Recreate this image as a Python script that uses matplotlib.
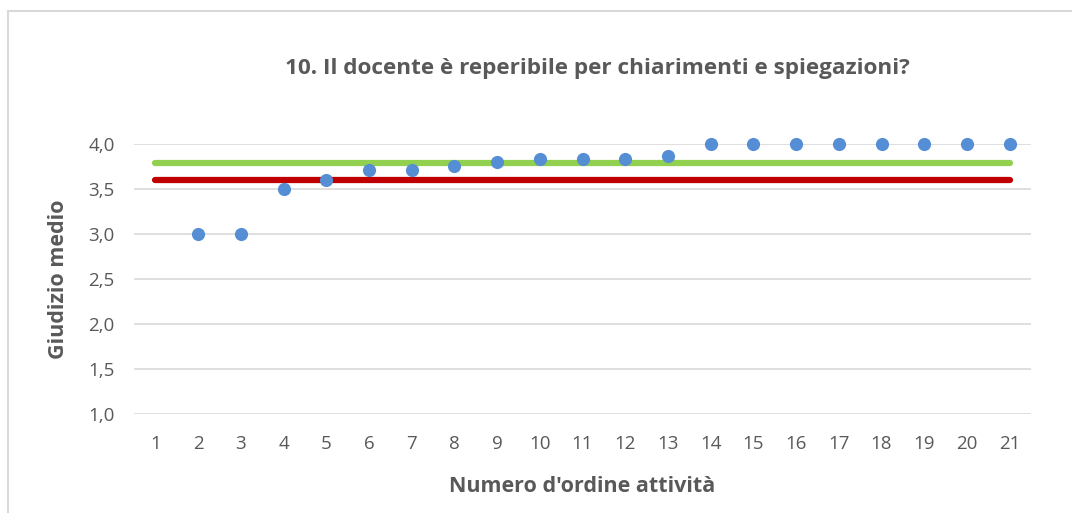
import matplotlib
matplotlib.use("Agg")
import matplotlib.pyplot as plt
from matplotlib.patches import Rectangle

# =========================
# 数据
# =========================
activities = list(range(1, 22))
point_x = list(range(2, 22))
point_y = [3.0, 3.0, 3.5, 3.6, 3.71, 3.71, 3.75, 3.80, 3.83, 3.83,
           3.83, 3.87, 4.0, 4.0, 4.0, 4.0, 4.0, 4.0, 4.0, 4.0]
media_verde = 3.79
media_rossa = 3.60
y_ticks = [1.0, 1.5, 2.0, 2.5, 3.0, 3.5, 4.0]

title = "10. Il docente è reperibile per chiarimenti e spiegazioni?"
xlabel = "Numero d'ordine attività"
ylabel = "Giudizio medio"

plt.rcParams["font.family"] = ["Open Sans", "DejaVu Sans"]
text_color = "#595959"

fig = plt.figure(figsize=(10.72, 5.13), dpi=100)
ax = fig.add_axes([0.125, 0.1936, 0.8368, 0.5257])

# 灰色外框（只露出上、左两边）
fig.patches.append(Rectangle((8 / 1072, -0.1), 1.2, 1 - 11 / 513 + 0.1,
                             transform=fig.transFigure, fill=False,
                             edgecolor="#d9d9d9", linewidth=1.5))

ax.set_axisbelow(True)
ax.grid(axis="y", color="#d9d9d9", linewidth=1.2)

ax.plot([activities[0], activities[-1]], [media_verde, media_verde],
        color="#92d050", linewidth=4.5, solid_capstyle="round", zorder=2)
ax.plot([activities[0], activities[-1]], [media_rossa, media_rossa],
        color="#c00000", linewidth=4.5, solid_capstyle="round", zorder=2)
ax.scatter(point_x, point_y, s=90, color="#558ed5", zorder=3, linewidths=0,
           clip_on=False)

ax.set_xlim(0.5, 21.5)
ax.set_ylim(1.0, 4.0)
ax.set_xticks(activities)
ax.set_xticklabels([str(a) for a in activities])
ax.set_yticks(y_ticks)
ax.set_yticklabels([f"{v:.1f}".replace(".", ",") for v in y_ticks])
ax.tick_params(length=0, labelsize=13.5, colors=text_color)
ax.tick_params(axis="x", pad=15)
ax.tick_params(axis="y", pad=14)

for s in ax.spines.values():
    s.set_visible(False)

ax.set_xlabel(xlabel, fontsize=15.5, fontweight="bold", color=text_color, labelpad=17)
ax.set_ylabel(ylabel, fontsize=15.5, fontweight="bold", color=text_color, labelpad=14)

fig.text(0.557, 0.867, title, ha="center", va="center", fontsize=16.2,
         fontweight="bold", color=text_color)

fig.savefig("out.png", dpi=100, facecolor="white")
